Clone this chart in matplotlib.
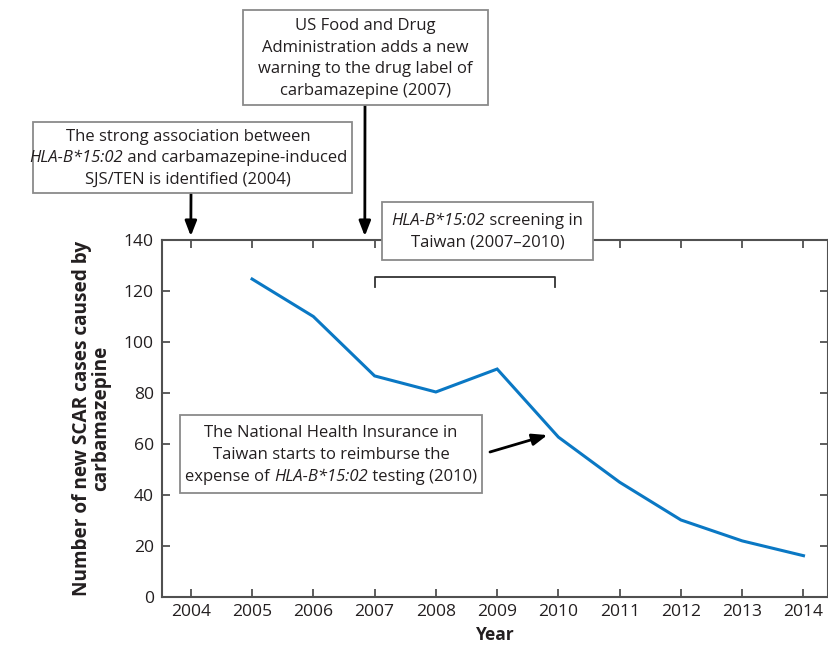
import matplotlib
matplotlib.use("Agg")
import matplotlib.pyplot as plt
from matplotlib.offsetbox import TextArea, HPacker, VPacker, AnnotationBbox
from matplotlib.patches import Rectangle

plt.rcParams['font.family'] = ['Open Sans', 'DejaVu Sans']

years = [2005, 2006, 2007, 2008, 2009, 2010, 2011, 2012, 2013, 2014]
cases = [124.7, 110, 86.7, 80.4, 89.4, 62.7, 45, 30.2, 22, 16.2]
xticks = list(range(2004, 2015))
yticks = list(range(0, 141, 20))

W, H = 829, 645
TXT = '#231f20'
SPINE = '#505050'
BOXEDGE = '#8a8a8a'
FS = 12.0

fig = plt.figure(figsize=(W / 100, H / 100), dpi=100)
ax = fig.add_axes([162 / W, 1 - 597 / H, (828 - 162) / W, (597 - 240) / H])
ax.plot(years, cases, color='#0a78c4', lw=2.2, solid_joinstyle='miter', zorder=3)
ax.set_xlim(2003.53, 2014.40)
ax.set_ylim(0, 140)
ax.set_xticks(xticks)
ax.set_yticks(yticks)
ax.tick_params(axis='both', direction='in', length=6, width=1.3, color=SPINE,
               labelsize=12.6, labelcolor=TXT, top=True, right=True, pad=5)
ax.tick_params(axis='y', pad=6)
for s in ax.spines.values():
    s.set_color(SPINE)
    s.set_linewidth(1.5)
ax.set_xlabel('Year', fontsize=12.5, fontweight='bold', color=TXT, labelpad=4.5)
ax.set_ylabel('Number of new SCAR cases caused by\ncarbamazepine', fontsize=13.7,
              fontweight='bold', color=TXT, labelpad=9, linespacing=0.95)


def px(x, y):
    return (x / W, 1 - y / H)


def seg(t, italic=False):
    return TextArea(t, textprops=dict(fontsize=FS, color=TXT,
                                      style='italic' if italic else 'normal'))


def box(x0, y0, x1, y1, lines, cx=None):
    r = Rectangle(px(x0, y1), (x1 - x0) / W, (y1 - y0) / H, transform=fig.transFigure,
                  facecolor='white', edgecolor=BOXEDGE, lw=1.3, zorder=5, clip_on=False)
    fig.add_artist(r)
    rows = []
    for ln in lines:
        rows.append(HPacker(children=[seg(t, it) for t, it in ln], align='baseline',
                            pad=0, sep=0))
    vp = VPacker(children=rows, align='center', pad=0, sep=4.0)
    if cx is None:
        cx = (x0 + x1) / 2
    ab = AnnotationBbox(vp, px(cx, (y0 + y1) / 2 + 1), xycoords='figure fraction',
                        frameon=False, box_alignment=(0.5, 0.5), zorder=6,
                        annotation_clip=False)
    fig.add_artist(ab)


box(33, 122, 352, 193, [
    [('The strong association between', False)],
    [('HLA-B*15:02', True), (' and carbamazepine-induced', False)],
    [('SJS/TEN is identified (2004)', False)],
], cx=188)
box(243, 10, 488, 105, [
    [('US Food and Drug', False)],
    [('Administration adds a new', False)],
    [('warning to the drug label of', False)],
    [('carbamazepine (2007)', False)],
])
box(382, 202, 593, 260, [
    [('HLA-B*15:02', True), (' screening in', False)],
    [('Taiwan (2007\u20132010)', False)],
])
box(180, 415, 482, 493, [
    [('The National Health Insurance in', False)],
    [('Taiwan starts to reimburse the', False)],
    [('expense of ', False), ('HLA-B*15:02', True), (' testing (2010)', False)],
])

arrow = dict(arrowstyle='-|>,head_length=0.9,head_width=0.35', color='black', lw=2,
             shrinkA=0, shrinkB=0)
ax.annotate('', xy=(2004, 141.5), xycoords='data', xytext=px(191, 194),
            textcoords='figure fraction', arrowprops=arrow, annotation_clip=False)
ax.annotate('', xy=(2006.84, 141.5), xycoords='data', xytext=px(365, 105),
            textcoords='figure fraction', arrowprops=arrow, annotation_clip=False)
ax.annotate('', xy=(2009.82, 63.5), xycoords='data', xytext=px(490, 452),
            textcoords='figure fraction', arrowprops=arrow, annotation_clip=False)

# bracket for screening period
ax.plot([2007, 2007, 2009.95, 2009.95], [121.5, 125.5, 125.5, 121.5], color='#333333',
        lw=1.3, clip_on=False, zorder=4)

fig.savefig('out.png', dpi=100)
